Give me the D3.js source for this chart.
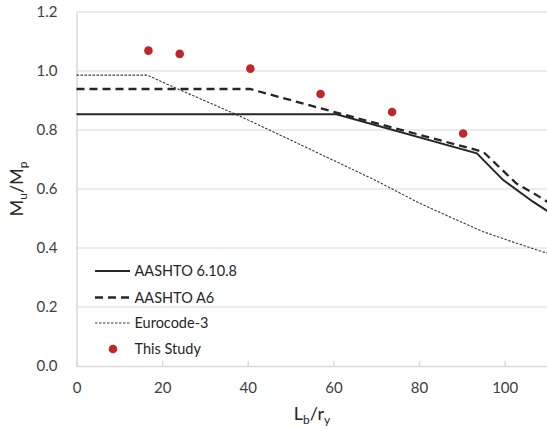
<!DOCTYPE html>
<html>
<head>
<meta charset="utf-8">
<script src="https://cdn.jsdelivr.net/npm/d3@7"></script>
<style>
  html, body { margin: 0; padding: 0; background: #fff; }
  svg { display: block; }
  text { font-family: Lato, "Liberation Sans", sans-serif; }
</style>
</head>
<body>
<svg id="chart" width="547" height="429"></svg>
<script>
// ---- data ----
const xTicks = [0, 20, 40, 60, 80, 100];
const yTicks = [0.0, 0.2, 0.4, 0.6, 0.8, 1.0, 1.2];

const aashto6108X = [0, 60.7, 93.5, 99.6, 106.6, 110];
const aashto6108Y = [0.853, 0.853, 0.721, 0.631, 0.557, 0.525];

const aashtoA6X = [0, 40.5, 60.7, 95.0, 102.7, 107.4, 110];
const aashtoA6Y = [0.939, 0.939, 0.859, 0.726, 0.619, 0.580, 0.556];

const eurocodeX = [0, 16.5, 23.7, 37.4, 50, 61.5, 70, 80.1, 90, 95, 101, 110];
const eurocodeY = [0.986, 0.986, 0.939, 0.852, 0.766, 0.687, 0.628, 0.552, 0.487, 0.455, 0.425, 0.382];

const studyX = [16.8, 24.1, 40.6, 57.0, 73.7, 90.3];
const studyY = [1.069, 1.058, 1.008, 0.922, 0.861, 0.788];

const seriesNames = ["AASHTO 6.10.8", "AASHTO A6", "Eurocode-3", "This Study"];

// ---- layout ----
const svg = d3.select("#chart");
const x = d3.scaleLinear().domain([0, 110]).range([76.5, 547.5]);
const y = d3.scaleLinear().domain([0, 1.2]).range([366, 12]);

// gridlines
svg.append("g")
  .selectAll("line")
  .data(yTicks.filter(d => d > 0))
  .join("line")
  .attr("x1", x(0)).attr("x2", x(110))
  .attr("y1", d => y(d)).attr("y2", d => y(d))
  .attr("stroke", "#d9d9d9").attr("stroke-width", 1);

// y axis
const yAxis = svg.append("g")
  .attr("transform", `translate(${x(0)},0)`)
  .call(d3.axisLeft(y).tickValues(yTicks).tickFormat(d3.format(".1f")).tickSize(0).tickPadding(19));
yAxis.select(".domain").attr("stroke", "#d9d9d9").attr("stroke-width", 1.5);
yAxis.selectAll("text").attr("font-size", 15).attr("fill", "#404040")
  .attr("font-family", "Lato, 'Liberation Sans', sans-serif");

// x axis
const xAxis = svg.append("g")
  .attr("transform", `translate(0,${y(0)})`)
  .call(d3.axisBottom(x).tickValues(xTicks).tickSize(-5).tickPadding(16));
xAxis.select(".domain").attr("stroke", "#d9d9d9").attr("stroke-width", 1.5);
xAxis.selectAll(".tick line").attr("stroke", "#d9d9d9").attr("stroke-width", 1.5);
xAxis.selectAll("text").attr("font-size", 15).attr("fill", "#404040")
  .attr("font-family", "Lato, 'Liberation Sans', sans-serif");

// lines
const line = d3.line().x(d => x(d[0])).y(d => y(d[1]));
const zip = (a, b) => a.map((v, i) => [v, b[i]]);

const styles = [
  { data: zip(aashto6108X, aashto6108Y), w: 2, dash: null, color: "#262626" },
  { data: zip(aashtoA6X, aashtoA6Y), w: 2.3, dash: "8,5", color: "#262626" },
  { data: zip(eurocodeX, eurocodeY), w: 1.1, dash: "2.5,1.5", color: "#3a3a3a" }
];
svg.append("g").selectAll("path")
  .data(styles)
  .join("path")
  .attr("d", d => line(d.data))
  .attr("fill", "none")
  .attr("stroke", d => d.color)
  .attr("stroke-width", d => d.w)
  .attr("stroke-dasharray", d => d.dash);

// study points
svg.append("g").selectAll("circle")
  .data(zip(studyX, studyY))
  .join("circle")
  .attr("cx", d => x(d[0])).attr("cy", d => y(d[1]))
  .attr("r", 4.3)
  .attr("fill", "#c0272d");

// legend
const legY = [271, 297.5, 323, 349];
const leg = svg.append("g");
styles.forEach((s, i) => {
  leg.append("line")
    .attr("x1", 95).attr("x2", 130)
    .attr("y1", legY[i]).attr("y2", legY[i])
    .attr("stroke", s.color).attr("stroke-width", s.w)
    .attr("stroke-dasharray", s.dash);
});
leg.append("circle").attr("cx", 113).attr("cy", legY[3]).attr("r", 4.3).attr("fill", "#c0272d");
leg.selectAll("text")
  .data(seriesNames)
  .join("text")
  .attr("x", 134.5)
  .attr("y", (d, i) => legY[i])
  .attr("dy", "0.35em")
  .attr("font-size", 14.5)
  .attr("fill", "#262626")
  .text(d => d);

// axis titles
const xt = svg.append("text")
  .attr("x", x(55)).attr("y", 420)
  .attr("text-anchor", "middle")
  .attr("font-size", 18).attr("fill", "#262626");
xt.append("tspan").text("L");
xt.append("tspan").text("b").attr("font-size", 12).attr("dy", 4);
xt.append("tspan").text("/r").attr("dy", -4);
xt.append("tspan").text("y").attr("font-size", 12).attr("dy", 4);

const yt = svg.append("text")
  .attr("transform", `translate(23,${y(0.6)}) rotate(-90)`)
  .attr("text-anchor", "middle")
  .attr("font-size", 18).attr("fill", "#262626");
yt.append("tspan").text("M");
yt.append("tspan").text("u").attr("font-size", 12).attr("dy", 4);
yt.append("tspan").text("/M").attr("dy", -4);
yt.append("tspan").text("p").attr("font-size", 12).attr("dy", 4);
</script>
</body>
</html>
